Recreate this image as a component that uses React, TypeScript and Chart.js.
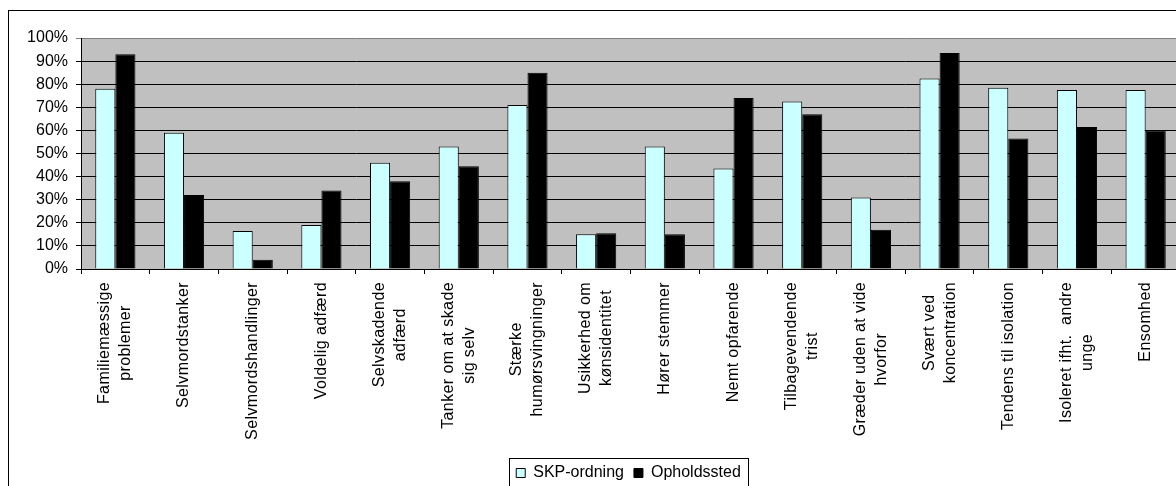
import React, { useEffect, useRef } from 'react';
import { Chart, registerables } from 'chart.js';

Chart.register(...registerables);

const FONT = '"Liberation Sans", Arial, sans-serif';

const categories: string[][] = [
  ['Familiemæssige', 'problemer'],
  ['Selvmordstanker'],
  ['Selvmordshandlinger'],
  ['Voldelig adfærd'],
  ['Selvskadende', 'adfærd'],
  ['Tanker om at skade', 'sig selv'],
  ['Stærke', 'humørsvingninger'],
  ['Usikkerhed om', 'kønsidentitet'],
  ['Hører stemmer'],
  ['Nemt opfarende'],
  ['Tilbagevendende', 'trist'],
  ['Græder uden at vide', 'hvorfor'],
  ['Svært ved', 'koncentration'],
  ['Tendens til isolation'],
  ['Isoleret ifht.  andre', 'unge'],
  ['Ensomhed'],
];

const seriesNames = ['SKP-ordning', 'Opholdssted'];
const skpValues = [78, 59, 16.5, 19, 46, 53, 71, 15, 53, 43.5, 72.5, 31, 82.5, 78.5, 77.5, 77.5];
const opholdsstedValues = [93, 32, 4, 34, 38, 44.5, 85, 15.5, 15, 74, 67, 17, 93.5, 56.5, 61.5, 60];

const yMin = 0;
const yMax = 100;
const yStep = 10;
const tickSuffix = '%';

const LINE_H = 21;

export default function App() {
  const ref = useRef<HTMLCanvasElement | null>(null);

  useEffect(() => {
    const canvas = ref.current;
    if (!canvas) return;

    const plotBg = {
      id: 'plotBg',
      beforeDraw(chart: any) {
        const { ctx, chartArea: a } = chart;
        ctx.save();
        ctx.fillStyle = '#c0c0c0';
        ctx.fillRect(a.left, a.top, a.right - a.left, a.bottom - a.top);
        ctx.restore();
      },
    };

    const xLabels = {
      id: 'xLabels',
      afterDraw(chart: any) {
        const xs = chart.scales.x;
        const ctx = chart.ctx;
        ctx.save();
        ctx.font = `16px ${FONT}`;
        try {
          (ctx as any).letterSpacing = '0.4px';
        } catch (e) {
          /* ignore */
        }
        ctx.fillStyle = '#000';
        ctx.textAlign = 'center';
        ctx.textBaseline = 'middle';
        const top = xs.top + 13;
        categories.forEach((lines, i) => {
          const x = xs.getPixelForValue(i);
          const maxW = Math.max(...lines.map((l) => ctx.measureText(l).width));
          lines.forEach((line, j) => {
            ctx.save();
            ctx.translate(x + (j - (lines.length - 1) / 2) * LINE_H, top + maxW / 2);
            ctx.rotate(-Math.PI / 2);
            ctx.fillText(line, 0, 0);
            ctx.restore();
          });
        });
        ctx.restore();
      },
    };

    const legendBorder = {
      id: 'legendBorder',
      afterDraw(chart: any) {
        const hb = chart.legend && chart.legend.legendHitBoxes;
        if (!hb || !hb.length) return;
        const first = hb[0];
        const last = hb[hb.length - 1];
        const left = Math.round(first.left - 7) + 0.5;
        const right = Math.round(last.left + last.width + 7) + 0.5;
        const cy = first.top + first.height / 2;
        const top = Math.round(cy - 15) + 0.5;
        const ctx = chart.ctx;
        ctx.save();
        ctx.strokeStyle = '#000';
        ctx.lineWidth = 1;
        ctx.strokeRect(left, top, right - left, 30);
        ctx.restore();
      },
    };

    const chart = new Chart(canvas, {
      type: 'bar',
      data: {
        labels: categories.map((c) => c.join(' ')),
        datasets: [
          {
            label: seriesNames[0],
            data: skpValues,
            backgroundColor: '#ccffff',
            borderColor: '#000',
            borderWidth: 1,
          },
          {
            label: seriesNames[1],
            data: opholdsstedValues,
            backgroundColor: '#000',
            borderColor: '#000',
            borderWidth: 1,
          },
        ],
      },
      options: {
        responsive: false,
        animation: false,
        devicePixelRatio: 1,
        layout: { padding: { top: 27, left: 0, right: 0, bottom: 8 } },
        datasets: { bar: { categoryPercentage: 0.585, barPercentage: 1 } },
        scales: {
          x: {
            grid: { offset: true, drawOnChartArea: false, drawTicks: true, tickLength: 5, color: '#000' },
            border: { color: '#000' },
            ticks: { display: false },
            afterFit: (s: any) => {
              s.height = 186;
            },
          },
          y: {
            min: yMin,
            max: yMax,
            ticks: {
              stepSize: yStep,
              callback: (v: any) => v + tickSuffix,
              color: '#000',
              font: { family: FONT, size: 16 },
              padding: 8,
            },
            grid: {
              color: (ctx: any) => (ctx.tick && ctx.tick.value === yMax ? '#808080' : '#000'),
              tickLength: 5,
            },
            border: { color: '#000' },
            afterFit: (s: any) => {
              s.width = 72;
            },
          },
          yRight: {
            type: 'linear',
            position: 'right',
            display: true,
            grid: { display: false },
            ticks: { display: false },
            border: { display: false },
            afterFit: (s: any) => {
              s.width = 68;
            },
          },
        },
        plugins: {
          legend: {
            position: 'bottom',
            labels: {
              boxWidth: 9,
              boxHeight: 9,
              padding: 10,
              color: '#000',
              font: { family: FONT, size: 16 },
            },
          },
          tooltip: { enabled: false },
        },
      } as any,
      plugins: [plotBg, xLabels, legendBorder],
    });

    return () => chart.destroy();
  }, []);

  return (
    <div
      style={{
        position: 'fixed',
        left: 0,
        top: 0,
        width: 1176,
        height: 486,
        overflow: 'hidden',
        background: '#fff',
      }}
    >
      <div
        style={{
          position: 'absolute',
          left: 8,
          top: 10,
          width: 1239,
          height: 488,
          border: '1px solid #000',
          background: '#fff',
        }}
      >
        <canvas ref={ref} width={1239} height={488} style={{ display: 'block' }} />
      </div>
    </div>
  );
}
